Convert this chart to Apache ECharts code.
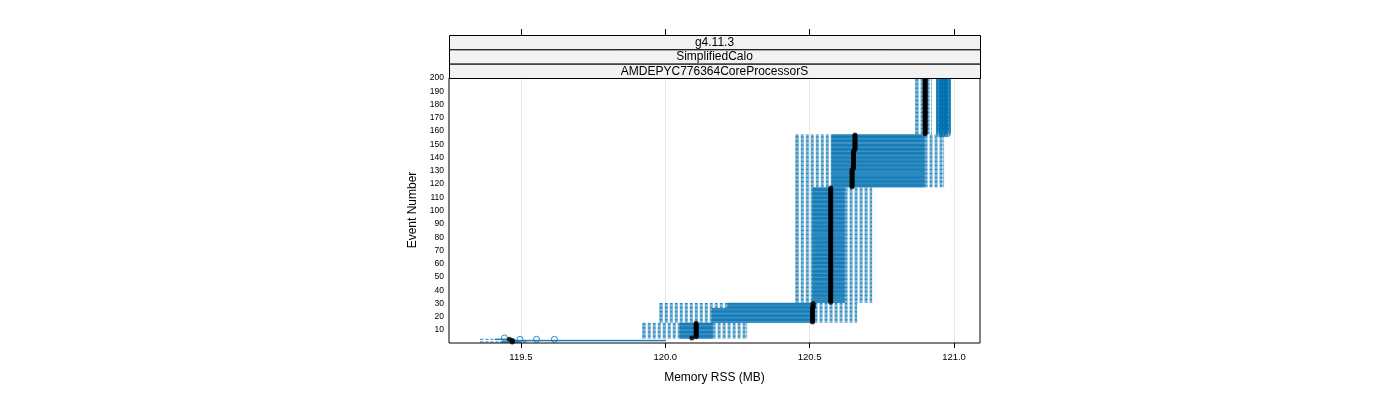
<!DOCTYPE html>
<html>
<head>
<meta charset="utf-8">
<title>Memory RSS per event</title>
<script src="https://cdn.jsdelivr.net/npm/echarts@6/dist/echarts.min.js"></script>
<style>
  body { margin: 0; background: #fff; }
  #main { width: 1400px; height: 400px; }
</style>
</head>
<body>
<div id="main"></div>
<script>
// runs of consecutive events that share the same box statistics
var runFrom = [1, 2, 3, 4, 5, 16, 27, 31, 118, 132, 146, 158]
var runTo = [1, 2, 3, 4, 15, 26, 30, 117, 131, 145, 157, 200]
var whiskLo = [119.36, 119.47, 119.36, 119.922, 119.922, 119.981, 119.981, 120.452, 120.452, 120.452, 120.452, 120.867]
var boxLo = [119.43, 119.47, 119.41, 120.050, 120.050, 120.161, 120.216, 120.510, 120.576, 120.576, 120.576, 120.894]
var median = [119.47, 119.47, 119.46, 120.092, 120.107, 120.510, 120.512, 120.573, 120.647, 120.652, 120.657, 120.900]
var boxHi = [119.49, 120.00, 119.47, 120.164, 120.164, 120.517, 120.517, 120.621, 120.898, 120.898, 120.898, 120.905]
var whiskHi = [119.52, 120.00, 119.48, 120.282, 120.282, 120.663, 120.663, 120.715, 120.964, 120.964, 120.964, 120.922]
var outliers = [[], [], [119.497, 119.554, 119.616], [119.443], [], [], [], [], [], [], [], [120.950, 120.959, 120.968, 120.977]]

var xTicks = [119.5, 120.0, 120.5, 121.0]
var yTicks = [10, 20, 30, 40, 50, 60, 70, 80, 90, 100, 110, 120, 130, 140, 150, 160, 170, 180, 190, 200]

var stripLabels = ['g4.11.3', 'SimplifiedCalo', 'AMDEPYC776364CoreProcessorS']

var BLUE = '#0072B2'
var FONT = 'Liberation Sans'

var rows = []
var medPts = []
var outPts = []
runFrom.forEach(function (from, r) {
  for (var ev = from; ev <= runTo[r]; ev++) {
    rows.push([whiskLo[r], boxLo[r], median[r], boxHi[r], whiskHi[r], ev])
    medPts.push([median[r], ev])
    outliers[r].forEach(function (v) { outPts.push([v, ev]) })
  }
})

function renderBox (params, api) {
  var ev = api.value(5)
  var lo = api.coord([api.value(0), ev])
  var q1 = api.coord([api.value(1), ev])
  var q3 = api.coord([api.value(3), ev])
  var hi = api.coord([api.value(4), ev])
  var h = api.size([0, 0.55])[1]
  var dash = { stroke: BLUE, lineWidth: 1, lineDash: [3, 2], opacity: 0.85 }
  var solid = { stroke: BLUE, lineWidth: 1, opacity: 0.85 }
  return {
    type: 'group',
    children: [
      { type: 'line', shape: { x1: lo[0], y1: lo[1], x2: q1[0], y2: q1[1] }, style: dash },
      { type: 'line', shape: { x1: q3[0], y1: q3[1], x2: hi[0], y2: hi[1] }, style: dash },
      { type: 'line', shape: { x1: lo[0], y1: lo[1] - h / 2, x2: lo[0], y2: lo[1] + h / 2 }, style: solid },
      { type: 'line', shape: { x1: hi[0], y1: hi[1] - h / 2, x2: hi[0], y2: hi[1] + h / 2 }, style: solid },
      { type: 'rect', shape: { x: q1[0], y: q1[1] - h / 2, width: Math.max(q3[0] - q1[0], 0.5), height: h }, style: { fill: BLUE, stroke: BLUE, lineWidth: 0.6 } }
    ]
  }
}

var stripTop = 35
var stripH = 43 / 3
var graphics = []
stripLabels.forEach(function (t, i) {
  graphics.push({
    type: 'rect',
    left: 449,
    top: stripTop + i * stripH,
    shape: { width: 531, height: stripH },
    style: { fill: '#f2f2f2', stroke: '#000', lineWidth: 1 },
    z: 10
  })
  graphics.push({
    type: 'text',
    x: 714.5,
    y: stripTop + i * stripH + stripH / 2 + 0.5,
    style: { text: t, font: '12px "' + FONT + '"', fill: '#000', textAlign: 'center', textVerticalAlign: 'middle' },
    z: 11
  })
})
graphics.push({
  type: 'text',
  x: 714.5,
  y: 378,
  style: { text: 'Memory RSS (MB)', font: '12px "' + FONT + '"', fill: '#000', textAlign: 'center', textVerticalAlign: 'middle' }
})
graphics.push({
  type: 'text',
  x: 413,
  y: 210,
  rotation: Math.PI / 2,
  style: { text: 'Event Number', font: '12px "' + FONT + '"', fill: '#000', textAlign: 'center', textVerticalAlign: 'middle' }
})

var chart = echarts.init(document.getElementById('main'), null, { renderer: 'canvas' })
chart.setOption({
  animation: false,
  textStyle: { fontFamily: FONT },
  grid: { left: 449, top: 78, width: 531, height: 265, show: true, borderColor: '#000', borderWidth: 1, backgroundColor: 'transparent', z: 5 },
  graphic: graphics,
  xAxis: [{
    type: 'value',
    min: 119.251,
    max: 121.09,
    minInterval: 0.5,
    maxInterval: 0.5,
    axisLine: { show: false },
    axisTick: { show: true, customValues: xTicks, length: 5, lineStyle: { color: '#000' } },
    axisLabel: { customValues: xTicks, formatter: function (v) { return v.toFixed(1) }, fontSize: 9.5, color: '#000', margin: 9, fontFamily: FONT },
    splitLine: { show: true, lineStyle: { color: '#e8e8e8', width: 1 } }
  }, {
    type: 'value',
    position: 'top',
    offset: 43,
    min: 119.251,
    max: 121.09,
    axisLine: { show: false },
    axisTick: { show: true, customValues: xTicks, length: 6, lineStyle: { color: '#000' } },
    axisLabel: { show: false },
    splitLine: { show: false }
  }],
  yAxis: {
    type: 'value',
    min: 0.2,
    max: 200,
    axisLine: { show: false },
    axisTick: { show: false },
    axisLabel: { customValues: yTicks, fontSize: 8.5, color: '#000', margin: 5, padding: [2, 0, 0, 0], fontFamily: FONT },
    splitLine: { show: false }
  },
  series: [{
    type: 'custom',
    renderItem: renderBox,
    clip: true,
    encode: { x: [0, 1, 2, 3, 4], y: 5 },
    data: rows,
    z: 2
  }, {
    type: 'scatter',
    data: outPts,
    symbol: 'circle',
    symbolSize: 6,
    clip: true,
    itemStyle: { color: 'none', borderColor: BLUE, borderWidth: 1 },
    z: 3
  }, {
    type: 'scatter',
    data: medPts,
    symbol: 'circle',
    symbolSize: 5,
    clip: true,
    itemStyle: { color: '#000' },
    z: 4
  }]
})
</script>
</body>
</html>
